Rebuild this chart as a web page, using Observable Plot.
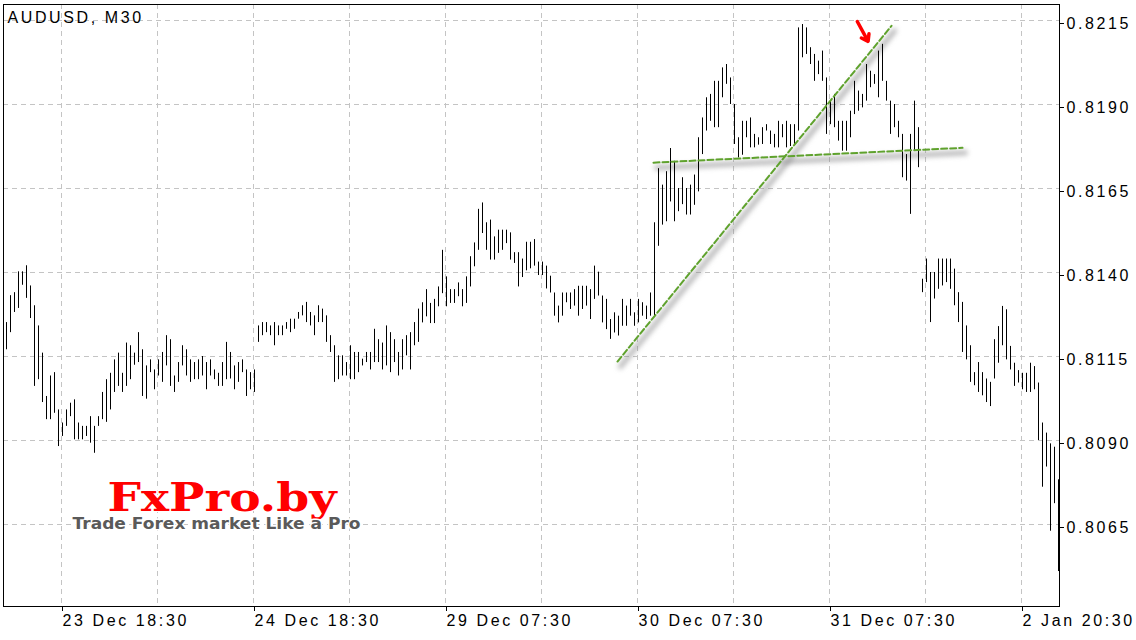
<!DOCTYPE html>
<html><head><meta charset="utf-8">
<script src="https://cdn.jsdelivr.net/npm/d3@7"></script>
<script src="https://cdn.jsdelivr.net/npm/@observablehq/plot@0.6"></script>
<style>
html,body{margin:0;padding:0;background:#fff;}
#chart svg text{letter-spacing:2.6px;}
</style></head><body><div id="chart"></div>
<script>
const title = "AUDUSD, M30";
const high = [
0.81251,0.81331,0.81340,0.81402,0.81402,0.81420,0.81360,0.81301,0.81241,0.81160,
0.81031,0.81092,0.81102,0.80991,0.80952,0.80991,0.81011,0.81021,0.80952,0.80942,
0.80942,0.80971,0.80942,0.80971,0.81043,0.81081,0.81100,0.81140,0.81160,0.81100,
0.81190,0.81182,0.81160,0.81221,0.81170,0.81122,0.81140,0.81110,0.81140,0.81162,
0.81212,0.81200,0.81092,0.81132,0.81182,0.81170,0.81140,0.81132,0.81140,0.81150,
0.81132,0.81140,0.81110,0.81100,0.81132,0.81192,0.81162,0.81122,0.81132,0.81140,
0.81110,0.81102,0.81110,0.81241,0.81251,0.81251,0.81241,0.81251,0.81241,0.81241,
0.81251,0.81261,0.81261,0.81281,0.81301,0.81311,0.81281,0.81271,0.81301,0.81291,
0.81271,0.81212,0.81182,0.81152,0.81152,0.81132,0.81182,0.81162,0.81162,0.81142,
0.81162,0.81162,0.81231,0.81200,0.81190,0.81241,0.81221,0.81200,0.81162,0.81200,
0.81212,0.81221,0.81251,0.81291,0.81310,0.81349,0.81308,0.81320,0.81357,0.81466,
0.81387,0.81349,0.81349,0.81369,0.81349,0.81387,0.81447,0.81488,0.81588,0.81607,
0.81548,0.81556,0.81506,0.81526,0.81526,0.81526,0.81518,0.81459,0.81459,0.81440,
0.81490,0.81490,0.81498,0.81431,0.81431,0.81419,0.81389,0.81339,0.81300,0.81339,
0.81339,0.81339,0.81349,0.81359,0.81359,0.81359,0.81349,0.81419,0.81401,0.81330,
0.81320,0.81260,0.81280,0.81270,0.81320,0.81300,0.81320,0.81280,0.81320,0.81310,
0.81300,0.81339,0.81548,0.81709,0.81660,0.81700,0.81769,0.81731,0.81650,0.81682,
0.81650,0.81660,0.81690,0.81801,0.81860,0.81920,0.81930,0.81969,0.81969,0.82009,
0.82019,0.81979,0.81900,0.81801,0.81850,0.81850,0.81860,0.81811,0.81801,0.81831,
0.81840,0.81821,0.81811,0.81850,0.81840,0.81850,0.81840,0.81840,0.82128,0.82138,
0.82128,0.82069,0.82049,0.82029,0.82059,0.81979,0.81910,0.81930,0.81850,0.81850,
0.81850,0.81880,0.81969,0.81940,0.81930,0.82019,0.81999,0.81989,0.82059,0.82079,
0.81969,0.81910,0.81900,0.81850,0.81811,0.81751,0.81811,0.81910,0.81831,0.81380,
0.81440,0.81400,0.81400,0.81440,0.81440,0.81440,0.81440,0.81410,0.81340,0.81311,
0.81241,0.81182,0.81102,0.81132,0.81102,0.81083,0.81073,0.81200,0.81239,0.81299,
0.81289,0.81180,0.81130,0.81108,0.81100,0.81100,0.81130,0.81120,0.81071,0.80952,
0.80922,0.80890,0.80880,0.80783];
const low = [
0.81170,0.81221,0.81281,0.81293,0.81362,0.81323,0.81263,0.81061,0.81081,0.81013,
0.80962,0.80962,0.80981,0.80882,0.80912,0.80942,0.80971,0.80902,0.80902,0.80902,
0.80912,0.80892,0.80862,0.80942,0.80962,0.80954,0.80991,0.81043,0.81061,0.81043,
0.81061,0.81081,0.81124,0.81132,0.81031,0.81023,0.81102,0.81051,0.81092,0.81073,
0.81122,0.81061,0.81043,0.81073,0.81122,0.81092,0.81073,0.81081,0.81081,0.81092,
0.81051,0.81092,0.81081,0.81061,0.81061,0.81081,0.81083,0.81051,0.81073,0.81102,
0.81031,0.81051,0.81043,0.81192,0.81212,0.81221,0.81212,0.81182,0.81212,0.81212,
0.81231,0.81221,0.81231,0.81261,0.81271,0.81251,0.81241,0.81212,0.81251,0.81251,
0.81192,0.81162,0.81073,0.81081,0.81092,0.81092,0.81081,0.81081,0.81102,0.81122,
0.81132,0.81110,0.81132,0.81132,0.81110,0.81122,0.81102,0.81132,0.81092,0.81110,
0.81152,0.81110,0.81182,0.81192,0.81250,0.81268,0.81248,0.81248,0.81298,0.81337,
0.81298,0.81308,0.81308,0.81328,0.81298,0.81308,0.81357,0.81417,0.81466,0.81516,
0.81466,0.81437,0.81437,0.81457,0.81466,0.81486,0.81437,0.81427,0.81357,0.81385,
0.81405,0.81411,0.81419,0.81391,0.81391,0.81351,0.81339,0.81270,0.81250,0.81270,
0.81310,0.81290,0.81300,0.81270,0.81290,0.81300,0.81260,0.81320,0.81330,0.81250,
0.81230,0.81201,0.81220,0.81211,0.81240,0.81240,0.81270,0.81240,0.81250,0.81270,
0.81260,0.81270,0.81270,0.81478,0.81541,0.81551,0.81610,0.81551,0.81581,0.81602,
0.81571,0.81571,0.81600,0.81640,0.81751,0.81821,0.81850,0.81831,0.81831,0.81920,
0.81960,0.81900,0.81781,0.81741,0.81749,0.81801,0.81771,0.81771,0.81779,0.81781,
0.81821,0.81781,0.81771,0.81771,0.81801,0.81771,0.81775,0.81781,0.81821,0.82039,
0.82049,0.82019,0.81969,0.81989,0.81969,0.81811,0.81840,0.81831,0.81791,0.81761,
0.81761,0.81801,0.81870,0.81880,0.81890,0.81910,0.81950,0.81960,0.81920,0.81969,
0.81910,0.81811,0.81831,0.81801,0.81682,0.81672,0.81573,0.81761,0.81712,0.81340,
0.81370,0.81251,0.81321,0.81350,0.81360,0.81370,0.81350,0.81301,0.81251,0.81162,
0.81140,0.81073,0.81063,0.81043,0.81033,0.81013,0.81001,0.81083,0.81130,0.81182,
0.81140,0.81110,0.81061,0.81071,0.81051,0.81043,0.81043,0.81051,0.80900,0.80761,
0.80821,0.80630,0.80712,0.80510];
const xTickIndex = [14, 62, 110, 158, 206, 254];
const xTickLabels = ["23 Dec 18:30", "24 Dec 18:30", "29 Dec 07:30", "30 Dec 07:30", "31 Dec 07:30", "2 Jan 20:30"];
const yTicks = [0.8065, 0.8090, 0.8115, 0.8140, 0.8165, 0.8190, 0.8215];
const trendRise = [{i: 152.75, p: 0.81135}, {i: 221.25, p: 0.82134}];
const trendFlat = [{i: 161.75, p: 0.81727}, {i: 239, p: 0.81771}];
const signal = [{i1: 212.7, p1: 0.82147, i2: 215.4, p2: 0.82088}];
const logo = "FxPro.by";
const slogan = "Trade Forex market Like a Pro";

const bars = high.map((h, i) => ({i, high: h, low: low[i]}));
const gridIdx = d3.range(xTickIndex[0], high.length, 24).map(d => d - 0.25);
const tickPos = xTickIndex.map(d => d - 0.25);
const labelMap = new Map(tickPos.map((d, k) => [d, xTickLabels[k]]));
const SHADOW = "#808081";
const green = "#5fa22d";

const chart = Plot.plot({
  width: 1136, height: 640,
  marginLeft: 3, marginRight: 77, marginTop: 4, marginBottom: 34,
  style: {fontFamily: "'Liberation Sans', Arial, sans-serif", fontSize: "16px", background: "#fff", color: "#000"},
  x: {domain: [0, high.length - 1], range: [6, 1058]},
  y: {domain: [0.8065, 0.8215], range: [524, 20]},
  marks: [
    Plot.gridX(gridIdx, {stroke: "#c4c4c4", strokeOpacity: 1, strokeDasharray: "5,4"}),
    Plot.gridY(yTicks, {stroke: "#c4c4c4", strokeOpacity: 1, strokeDasharray: "5,4"}),
    Plot.text([logo], {frameAnchor: "top-left", dx: 104, dy: 494, textAnchor: "start", lineAnchor: "middle",
      fontSize: 40, fontWeight: "bold", fontFamily: "'DejaVu Serif', serif", fill: "#ff0000", stroke: "#fff", strokeWidth: 2}),
    Plot.text([slogan], {frameAnchor: "top-left", dx: 69, dy: 519, textAnchor: "start", lineAnchor: "middle",
      fontSize: 16, fontWeight: "bold", fontFamily: "'DejaVu Sans', sans-serif", fill: "#5a5a5a", stroke: "#fff", strokeWidth: 3}),
    Plot.line(trendRise, {x: "i", y: "p", stroke: SHADOW, strokeWidth: 5, strokeOpacity: 0.55, dx: 3, dy: 5}),
    Plot.line(trendFlat, {x: "i", y: "p", stroke: SHADOW, strokeWidth: 5, strokeOpacity: 0.55, dx: 3, dy: 5}),
    Plot.ruleX(bars, {x: "i", y1: "low", y2: "high", stroke: "#000", strokeWidth: 1}),
    Plot.line(trendRise, {x: "i", y: "p", stroke: green, strokeWidth: 2, strokeDasharray: "6,3"}),
    Plot.line(trendFlat, {x: "i", y: "p", stroke: green, strokeWidth: 2, strokeDasharray: "6,3"}),
    Plot.arrow(signal, {x1: "i1", y1: "p1", x2: "i2", y2: "p2", stroke: "#ff0000", strokeWidth: 3.5, headLength: 13, headAngle: 70}),
    Plot.frame({stroke: "#000"}),
    Plot.axisX(tickPos, {tickSize: 5, tickPadding: 3, textAnchor: "start", dx: 1, tickFormat: d => labelMap.get(d), label: null, fontSize: 16}),
    Plot.axisY(yTicks, {anchor: "right", tickSize: 4, tickPadding: 3, dy: 3, tickFormat: d3.format(".4f"), label: null, fontSize: 16}),
    Plot.text([title], {frameAnchor: "top-left", dx: 4, dy: 7, textAnchor: "start", lineAnchor: "top", fontSize: 16, fill: "#000"})
  ]
});

const svg = d3.select(chart);
svg.selectAll(`[stroke="${SHADOW}"]`).style("filter", "blur(2.5px)");
svg.selectAll("text").filter(function() { return this.textContent === logo; })
  .attr("textLength", 229).attr("lengthAdjust", "spacingAndGlyphs").style("letter-spacing", "0px");
svg.selectAll("text").filter(function() { return this.textContent === slogan; })
  .attr("textLength", 288).attr("lengthAdjust", "spacingAndGlyphs").style("letter-spacing", "0px");
document.getElementById("chart").appendChild(chart);
</script></body></html>
